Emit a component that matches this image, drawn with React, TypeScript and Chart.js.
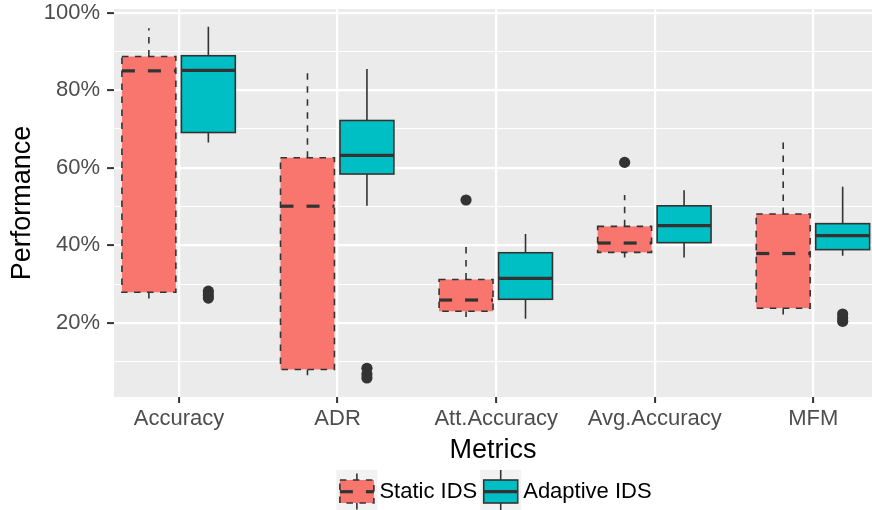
import React, { useEffect, useRef } from 'react';
import { Chart, registerables } from 'chart.js';

Chart.register(...registerables);

// ---- data ----
const categories = ['Accuracy', 'ADR', 'Att.Accuracy', 'Avg.Accuracy', 'MFM'];
const seriesNames = ['Static IDS', 'Adaptive IDS'];
const seriesColors = ['#F8766D', '#00BFC4'];

const staticMin = [26.3, 6.5, 21.5, 36.9, 22.2];
const staticQ1 = [27.9, 8.0, 23.0, 38.2, 23.8];
const staticMedian = [85.0, 50.1, 25.9, 40.6, 37.9];
const staticQ3 = [88.7, 62.6, 31.2, 44.9, 48.1];
const staticMax = [96.0, 84.4, 40.5, 53.0, 66.5];
const staticOutliers = [[], [], [51.7], [61.4], []];

const adaptiveMin = [66.5, 50.2, 21.1, 36.9, 37.3];
const adaptiveQ1 = [69.1, 58.4, 26.1, 40.7, 38.9];
const adaptiveMedian = [85.1, 63.2, 31.5, 45.1, 42.5];
const adaptiveQ3 = [88.9, 72.2, 38.1, 50.2, 45.6];
const adaptiveMax = [96.4, 85.5, 42.9, 54.2, 55.1];
const adaptiveOutliers = [[26.4, 27.2, 28.2], [5.8, 6.8, 8.3], [], [], [20.4, 21.3, 22.3]];

const yTickValues = [10, 20, 30, 40, 50, 60, 70, 80, 90, 100];

const FONT = '"Liberation Sans", Arial, Helvetica, sans-serif';
const OUTLINE = '#333333';

type Series = {
  name: string;
  color: string;
  dashed: boolean;
  offset: number;
  min: number[];
  q1: number[];
  med: number[];
  q3: number[];
  max: number[];
  outliers: number[][];
};

function drawBoxShape(
  ctx: CanvasRenderingContext2D,
  cx: number,
  hw: number,
  yMin: number,
  yQ1: number,
  yMed: number,
  yQ3: number,
  yMax: number,
  color: string,
  dashed: boolean
) {
  ctx.save();
  ctx.strokeStyle = OUTLINE;
  ctx.lineWidth = 1.6;
  ctx.lineCap = 'butt';
  ctx.setLineDash(dashed ? [6.5, 6.5] : []);
  ctx.beginPath();
  ctx.moveTo(cx, yQ3);
  ctx.lineTo(cx, yMax);
  ctx.moveTo(cx, yQ1);
  ctx.lineTo(cx, yMin);
  ctx.stroke();
  ctx.fillStyle = color;
  ctx.fillRect(cx - hw, yQ3, hw * 2, yQ1 - yQ3);
  ctx.strokeRect(cx - hw, yQ3, hw * 2, yQ1 - yQ3);
  ctx.lineWidth = 3.2;
  ctx.setLineDash(dashed ? [13, 13] : []);
  ctx.beginPath();
  ctx.moveTo(cx - hw, yMed);
  ctx.lineTo(cx + hw, yMed);
  ctx.stroke();
  ctx.restore();
}

export default function App() {
  const ref = useRef<HTMLCanvasElement>(null);

  useEffect(() => {
    if (!ref.current) return;
    const series: Series[] = [
      {
        name: seriesNames[0], color: seriesColors[0], dashed: true, offset: -0.19,
        min: staticMin, q1: staticQ1, med: staticMedian, q3: staticQ3, max: staticMax, outliers: staticOutliers,
      },
      {
        name: seriesNames[1], color: seriesColors[1], dashed: false, offset: 0.185,
        min: adaptiveMin, q1: adaptiveQ1, med: adaptiveMedian, q3: adaptiveQ3, max: adaptiveMax, outliers: adaptiveOutliers,
      },
    ];
    const boxWidth = 0.34;

    const boxPlugin = {
      id: 'ggBoxes',
      beforeDraw(chart: any) {
        const { ctx, chartArea } = chart;
        ctx.save();
        ctx.fillStyle = '#EBEBEB';
        ctx.fillRect(chartArea.left, chartArea.top, chartArea.right - chartArea.left, chartArea.bottom - chartArea.top);
        ctx.restore();
      },
      beforeDatasetsDraw(chart: any) {
        const { ctx } = chart;
        const xs = chart.scales.x;
        const ys = chart.scales.y;
        const hw = Math.abs(xs.getPixelForValue(1 + boxWidth / 2) - xs.getPixelForValue(1));
        series.forEach((s) => {
          categories.forEach((_, i) => {
            const cx = xs.getPixelForValue(i + 1 + s.offset);
            drawBoxShape(
              ctx, cx, hw,
              ys.getPixelForValue(s.min[i]),
              ys.getPixelForValue(s.q1[i]),
              ys.getPixelForValue(s.med[i]),
              ys.getPixelForValue(s.q3[i]),
              ys.getPixelForValue(s.max[i]),
              s.color, s.dashed
            );
          });
        });
      },
      afterDraw(chart: any) {
        const { ctx, chartArea } = chart;
        ctx.save();
        ctx.font = `22px ${FONT}`;
        const keyW = 41;
        const tw = series.map((s) => ctx.measureText(s.name).width);
        const total = keyW + 2 + tw[0] + 2 + keyW + 3 + tw[1];
        const cx = (chartArea.left + chartArea.right) / 2 + 1;
        let x = cx - total / 2;
        const top = 470;
        const midY = 492;
        series.forEach((s, k) => {
          ctx.fillStyle = '#F2F2F2';
          ctx.fillRect(x, top, keyW, 40);
          const kx = x + keyW / 2;
          drawBoxShape(ctx, kx, 17, top + 40, top + 33, midY - 0.3, top + 10, top, s.color, s.dashed);
          ctx.fillStyle = '#000000';
          ctx.textBaseline = 'middle';
          ctx.textAlign = 'left';
          ctx.fillText(s.name, x + keyW + 2, midY);
          x += keyW + 2 + tw[k] + 3;
        });
        ctx.restore();
      },
    };

    const datasets = series.map((s) => ({
      label: s.name,
      data: s.outliers.flatMap((arr, i) => arr.map((v) => ({ x: i + 1 + s.offset, y: v }))),
      pointRadius: 5.6,
      pointHoverRadius: 5.6,
      pointBackgroundColor: OUTLINE,
      pointBorderColor: OUTLINE,
      pointBorderWidth: 0,
      showLine: false,
    }));

    const chart = new Chart(ref.current, {
      type: 'scatter',
      data: { datasets },
      plugins: [boxPlugin],
      options: {
        animation: false,
        responsive: false,
        devicePixelRatio: 1,
        layout: { autoPadding: false, padding: { top: 9, left: 0, right: 0, bottom: 0 } },
        plugins: { legend: { display: false }, tooltip: { enabled: false } },
        events: [],
        scales: {
          x: {
            type: 'linear',
            min: 0.59,
            max: 5.37,
            afterBuildTicks: (scale: any) => {
              scale.ticks = categories.map((_, i) => ({ value: i + 1 }));
            },
            afterFit: (scale: any) => {
              scale.height = 113;
              scale.paddingLeft = 0;
              scale.paddingRight = 0;
            },
            border: { display: false },
            grid: {
              color: '#FFFFFF',
              lineWidth: 2.2,
              tickColor: OUTLINE,
              tickLength: 6,
              tickWidth: 2,
              drawTicks: true,
            },
            ticks: {
              autoSkip: false,
              maxRotation: 0,
              minRotation: 0,
              padding: 3,
              color: '#4D4D4D',
              font: { family: FONT, size: 22 },
              callback: (v: any) => categories[Math.round(Number(v)) - 1] ?? '',
            },
            title: {
              display: true,
              text: 'Metrics',
              color: '#000000',
              font: { family: FONT, size: 27 },
              padding: { top: 0, bottom: 43.5 },
            },
          },
          y: {
            type: 'linear',
            min: 0.9,
            max: 100.95,
            afterBuildTicks: (scale: any) => {
              scale.ticks = yTickValues.map((v) => ({ value: v }));
            },
            afterFit: (scale: any) => {
              scale.width = 114;
              scale.paddingTop = 0;
              scale.paddingBottom = 0;
            },
            border: { display: false },
            grid: {
              color: '#FFFFFF',
              lineWidth: (c: any) => (c.tick && c.tick.value % 20 === 0 ? 2.2 : 1.1),
              tickColor: (c: any) => (c.tick && c.tick.value % 20 === 0 ? OUTLINE : 'rgba(0,0,0,0)'),
              tickLength: 7,
              tickWidth: 2,
              drawTicks: true,
            },
            ticks: {
              autoSkip: false,
              padding: 7,
              color: '#4D4D4D',
              font: { family: FONT, size: 22 },
              callback: (v: any) => (Number(v) % 20 === 0 ? `${v}%` : ''),
            },
            title: {
              display: true,
              text: 'Performance',
              color: '#000000',
              font: { family: FONT, size: 27 },
              padding: { top: 6, bottom: 0 },
            },
          },
        },
      } as any,
    });
    return () => chart.destroy();
  }, []);

  return (
    <div style={{ position: 'fixed', left: 0, top: 0, width: 872, height: 510, background: '#ffffff' }}>
      <canvas ref={ref} width={872} height={510} style={{ display: 'block', width: 872, height: 510 }} />
    </div>
  );
}
